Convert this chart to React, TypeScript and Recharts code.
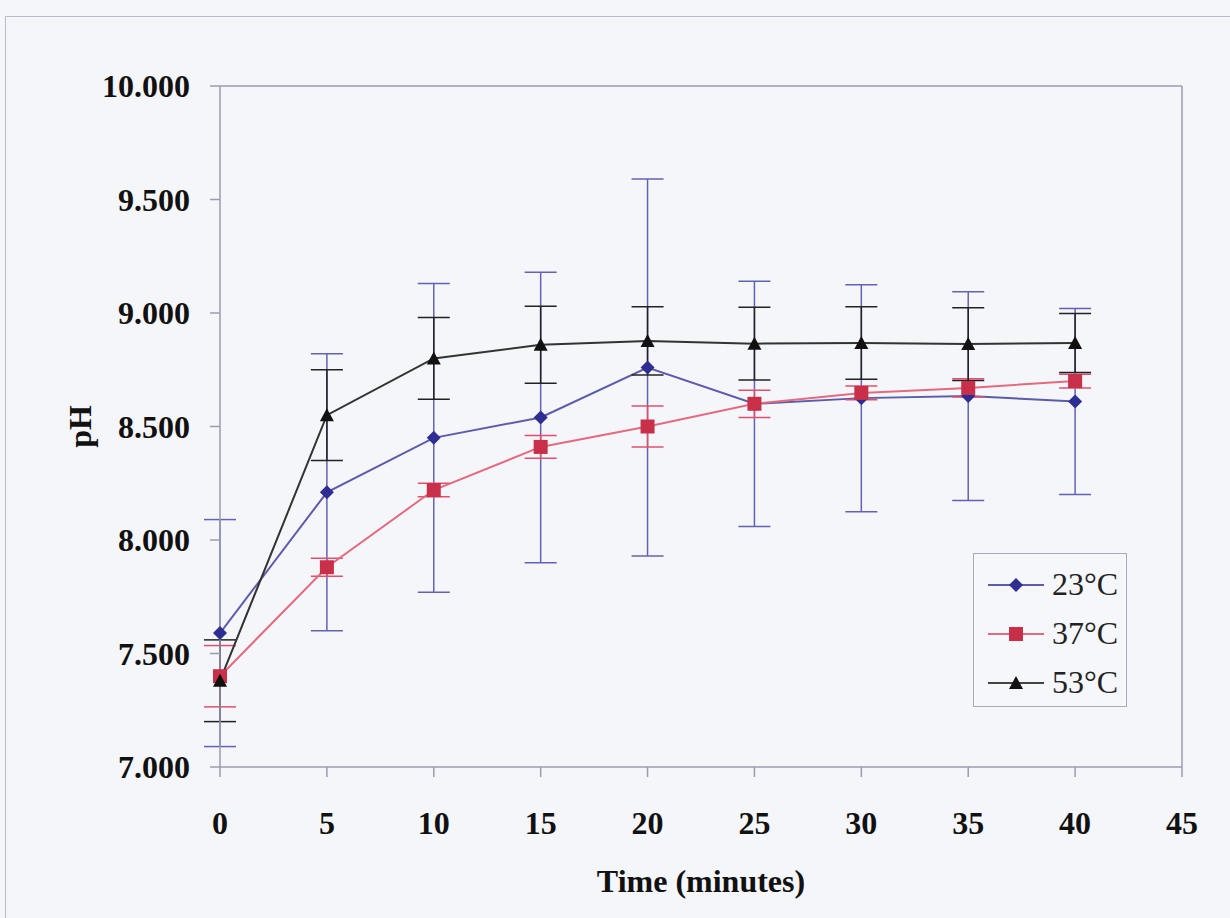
import { LineChart, Line, XAxis, YAxis, ErrorBar, ReferenceLine } from 'recharts';

const times = [0, 5, 10, 15, 20, 25, 30, 35, 40];
const ph23 = [7.59, 8.21, 8.45, 8.54, 8.76, 8.6, 8.625, 8.634, 8.61];
const err23 = [0.5, 0.61, 0.68, 0.64, 0.83, 0.54, 0.5, 0.46, 0.41];
const ph37 = [7.4, 7.88, 8.22, 8.41, 8.5, 8.6, 8.648, 8.67, 8.7];
const err37 = [0.135, 0.04, 0.03, 0.05, 0.09, 0.06, 0.03, 0.04, 0.03];
const ph53 = [7.38, 8.55, 8.8, 8.86, 8.877, 8.865, 8.868, 8.863, 8.868];
const err53 = [0.18, 0.2, 0.18, 0.17, 0.15, 0.16, 0.16, 0.16, 0.13];

const xTicks = [0, 5, 10, 15, 20, 25, 30, 35, 40, 45];
const yTicks = [7, 7.5, 8, 8.5, 9, 9.5, 10];

const data = times.map((t, i) => ({
  t,
  a: ph23[i],
  ae: err23[i],
  b: ph37[i],
  be: err37[i],
  c: ph53[i],
  ce: err53[i],
}));

const BLUE = '#2d2d92';
const BLUE_LINE = '#5c5caa';
const RED = '#c8304a';
const RED_LINE = '#e46a80';
const BLACK = '#111';
const AXIS = '#9a9cb0';
const FONT = '"Liberation Serif", "Times New Roman", serif';

const diamond = (cx: number, cy: number, r = 7) =>
  `M${cx},${cy - r} L${cx + r},${cy} L${cx},${cy + r} L${cx - r},${cy} Z`;
const triangle = (cx: number, cy: number, r = 7) =>
  `M${cx},${cy - r} L${cx + r},${cy + r - 1} L${cx - r},${cy + r - 1} Z`;

function DiamondDot(props: any) {
  const { cx, cy, index } = props;
  if (cx == null || cy == null) return <g key={`a${index}`} />;
  return <path key={`a${index}`} d={diamond(cx, cy)} fill={BLUE} />;
}

function SquareDot(props: any) {
  const { cx, cy, index } = props;
  if (cx == null || cy == null) return <g key={`b${index}`} />;
  return <rect key={`b${index}`} x={cx - 7} y={cy - 7} width={14} height={14} fill={RED} />;
}

function TriangleDot(props: any) {
  const { cx, cy, index } = props;
  if (cx == null || cy == null) return <g key={`c${index}`} />;
  return <path key={`c${index}`} d={triangle(cx, cy)} fill={BLACK} />;
}

const legendRows = [
  { label: '23°C', line: BLUE_LINE, mark: 'diamond' },
  { label: '37°C', line: RED_LINE, mark: 'square' },
  { label: '53°C', line: '#444', mark: 'triangle' },
];

function LegendBox() {
  return (
    <div
      style={{
        position: 'absolute',
        left: 973,
        top: 553,
        border: '1.5px solid #a8aab8',
        width: 154,
        height: 154,
        boxSizing: 'border-box',
        padding: '6px 0 0 14px',
        fontFamily: FONT,
        fontSize: 32,
        color: '#222',
        background: '#f6f7fb',
      }}
    >
      {legendRows.map((r) => (
        <div key={r.label} style={{ display: 'flex', alignItems: 'center', height: 49 }}>
          <svg width={58} height={20} style={{ marginRight: 6 }}>
            <line x1={0} y1={10} x2={56} y2={10} stroke={r.line} strokeWidth={2} />
            {r.mark === 'diamond' && <path d={diamond(28, 10)} fill={BLUE} />}
            {r.mark === 'square' && <rect x={21} y={3} width={14} height={14} fill={RED} />}
            {r.mark === 'triangle' && <path d={triangle(28, 10)} fill={BLACK} />}
          </svg>
          <span>{r.label}</span>
        </div>
      ))}
    </div>
  );
}

const tickStyle = { fontFamily: FONT, fontSize: 32, fontWeight: 700, fill: '#111' };

export default function App() {
  return (
    <div style={{ position: 'absolute', left: 0, top: 0, width: 1230, height: 918, background: '#f5f6fa', overflow: 'hidden' }}>
      <div
        style={{
          position: 'absolute',
          left: 5,
          top: 16,
          width: 1240,
          height: 920,
          border: '1.5px solid #b9bcc8',
        }}
      />
      <div style={{ position: 'absolute', left: 0, top: 0 }}>
        <LineChart width={1230} height={918} data={data} margin={{ top: 86, right: 48, bottom: 0, left: 0 }}>
          <XAxis
            dataKey="t"
            type="number"
            domain={[0, 45]}
            ticks={xTicks}
            height={151}
            tickSize={10}
            tickMargin={34}
            stroke={AXIS}
            strokeWidth={1.5}
            tick={tickStyle}
            label={{
              value: 'Time (minutes)',
              position: 'insideBottom',
              offset: 26,
              style: { fontFamily: FONT, fontSize: 32, fontWeight: 700, fill: '#111' },
            }}
          />
          <YAxis
            type="number"
            domain={[7, 10]}
            ticks={yTicks}
            width={220}
            tickSize={10}
            tickMargin={20}
            stroke={AXIS}
            strokeWidth={1.5}
            tick={tickStyle}
            tickFormatter={(v: number) => v.toFixed(3)}
            label={(p: any) => {
              const vb = p.viewBox || { x: 0, y: 86, width: 220, height: 681 };
              const x = vb.x + 80;
              const y = vb.y + vb.height / 2;
              return (
                <text
                  x={x}
                  y={y}
                  transform={`rotate(-90 ${x} ${y})`}
                  textAnchor="middle"
                  dominantBaseline="central"
                  style={{ fontFamily: FONT, fontSize: 32, fontWeight: 700, fill: '#111' }}
                >
                  pH
                </text>
              );
            }}
          />
          <ReferenceLine y={10} stroke={AXIS} strokeWidth={1.5} />
          <ReferenceLine x={45} stroke={AXIS} strokeWidth={1.5} />
          <Line
            dataKey="a"
            stroke={BLUE_LINE}
            strokeWidth={2}
            dot={DiamondDot}
            activeDot={false}
            isAnimationActive={false}
          >
            <ErrorBar dataKey="ae" width={16} stroke="#6262b4" strokeWidth={1.5} direction="y" />
          </Line>
          <Line
            dataKey="b"
            stroke={RED_LINE}
            strokeWidth={2}
            dot={SquareDot}
            activeDot={false}
            isAnimationActive={false}
          >
            <ErrorBar dataKey="be" width={16} stroke="#e0506a" strokeWidth={1.5} direction="y" />
          </Line>
          <Line
            dataKey="c"
            stroke="#333"
            strokeWidth={2}
            dot={TriangleDot}
            activeDot={false}
            isAnimationActive={false}
          >
            <ErrorBar dataKey="ce" width={16} stroke="#222" strokeWidth={1.5} direction="y" />
          </Line>
        </LineChart>
      </div>
      <LegendBox />
    </div>
  );
}
